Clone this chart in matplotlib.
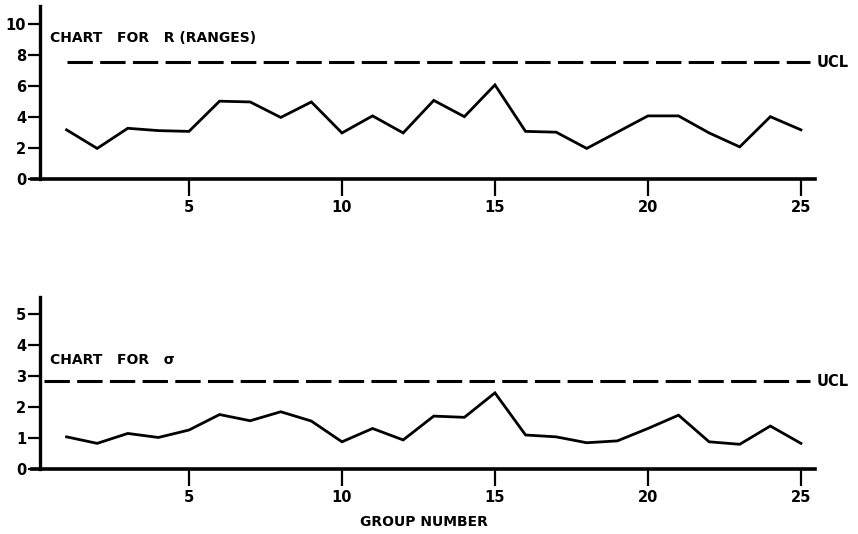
import matplotlib
matplotlib.use("Agg")
import matplotlib.pyplot as plt

plt.rcParams["font.family"] = ["DejaVu Sans"]
plt.rcParams["font.weight"] = "bold"

# group numbers
groups = list(range(1, 26))

# ranges R for each group
r_values = [3.2, 2.0, 3.3, 3.15, 3.1, 5.05, 5.0, 4.0, 5.0, 3.0, 4.1, 3.0, 5.1,
            4.05, 6.1, 3.1, 3.05, 2.0, 3.05, 4.1, 4.1, 3.0, 2.1, 4.05, 3.2]
r_ucl = 7.55

# standard deviations for each group
sigma_values = [1.05, 0.84, 1.16, 1.03, 1.27, 1.77, 1.57, 1.86, 1.56, 0.89, 1.32, 0.95, 1.72,
                1.68, 2.47, 1.11, 1.05, 0.86, 0.92, 1.32, 1.75, 0.89, 0.81, 1.40, 0.84]
sigma_ucl = 2.85

x_ticks = [5, 10, 15, 20, 25]
r_yticks = [0, 2, 4, 6, 8, 10]
s_yticks = [0, 1, 2, 3, 4, 5]

fig = plt.figure(figsize=(8.58, 5.34), dpi=100)
ax1 = fig.add_axes([32 / 858, 0.664, 783 / 858, 0.325])
ax2 = fig.add_axes([32 / 858, 0.121, 783 / 858, 0.322])


def style(ax, ylim, yticks):
    ax.set_xlim(-0.13, 25.46)
    ax.set_ylim(0, ylim)
    ax.spines["top"].set_visible(False)
    ax.spines["right"].set_visible(False)
    ax.spines["left"].set_position(("data", 0.13))
    ax.spines["left"].set_linewidth(2.4)
    ax.spines["bottom"].set_linewidth(2.6)
    ax.set_xticks(x_ticks)
    ax.set_yticks(yticks)
    ax.tick_params(axis="x", direction="out", length=12, width=1.6, pad=3, labelsize=10.5)
    ax.tick_params(axis="y", direction="out", length=9, width=1.6, pad=1, labelsize=10.5)
    for lab in ax.get_xticklabels() + ax.get_yticklabels():
        lab.set_fontweight("bold")


style(ax1, 11.2, r_yticks)
style(ax2, 5.55, s_yticks)

# R chart
ax1.plot(groups, r_values, color="black", lw=2.0, solid_joinstyle="miter")
ax1.hlines(r_ucl, 1.0, 25.3, colors="black", linestyles=(0, (8.3, 2.4)), lw=2.2)
ax1.text(25.5, r_ucl, "UCL", fontsize=10.5, fontweight="bold", va="center", ha="left", clip_on=False)
ax1.text(0.46, 9.1, "CHART   FOR   R (RANGES)", fontsize=10, fontweight="bold", va="center")

# sigma chart
ax2.plot(groups, sigma_values, color="black", lw=2.0, solid_joinstyle="miter")
ax2.hlines(sigma_ucl, 0.25, 25.3, colors="black", linestyles=(0, (8.3, 2.4)), lw=2.2)
ax2.text(25.5, sigma_ucl, "UCL", fontsize=10.5, fontweight="bold", va="center", ha="left", clip_on=False)
ax2.text(0.46, 3.53, "CHART   FOR   σ", fontsize=10, fontweight="bold", va="center")
ax2.set_xlabel("GROUP NUMBER", fontsize=10, fontweight="bold", labelpad=7)

fig.savefig("out.png", dpi=100, facecolor="white")
